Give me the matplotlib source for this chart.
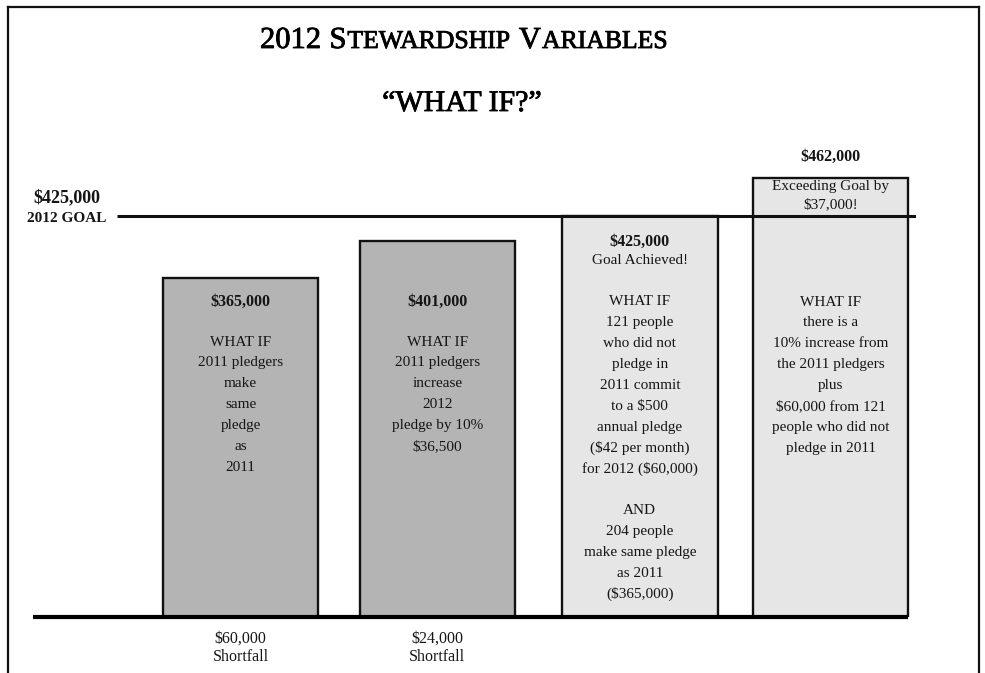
#
# 2012 stewardship "what if" chart
#

import matplotlib
matplotlib.use('Agg')
import matplotlib.pyplot as plt
import matplotlib.transforms as mtransforms
import matplotlib.patheffects as pe
from matplotlib.lines import Line2D

# ---------------------------------------------------------------- data
goal = 425000
totals = [365000, 401000, 425000, 462000]
shortfalls = [60000, 24000]
exceed = 37000

bar1_lines = ['WHAT IF', '2011 pledgers', 'make', 'same', 'pledge', 'as', '2011']
bar2_lines = ['WHAT IF', '2011 pledgers', 'increase', '2012', 'pledge by 10%', '$36,500']
bar3_lines = ['Goal Achieved!', '', 'WHAT IF', '121 people', 'who did not', 'pledge in',
              '2011 commit', 'to a $500', 'annual pledge', '($42 per month)',
              'for 2012 ($60,000)', '', 'AND', '204 people', 'make same pledge',
              'as 2011', '($365,000)']
bar4_lines = ['WHAT IF', 'there is a', '10% increase from', 'the 2011 pledgers', 'plus',
              '$60,000 from 121', 'people who did not', 'pledge in 2011']

# ---------------------------------------------------------------- style
W, H = 985, 673
SERIF = 'Liberation Serif'
TXT = '#151515'
DARK = '#b4b4b4'
LIGHT = '#e6e6e6'
bar_colors = [DARK, DARK, LIGHT, LIGHT]
bar_pos = [0, 1, 2.03, 3]   # layout slots (third box sits a little right)
LINE_STEP = 20.9            # px between text lines
heavy = [pe.withStroke(linewidth=0.6, foreground='black')]


def fy(p):
    # pixel from top -> figure fraction
    return 1 - p / H


def fx(p):
    return p / W


fig = plt.figure(figsize=(W / 100, H / 100), dpi=100, facecolor='white')
renderer = fig.canvas.get_renderer()

# frame (bottom edge is cut off in the original)
for xs, ys in [([8, 8], [H, 7]), ([8, 979], [7, 7]), ([979, 979], [7, H])]:
    fig.add_artist(Line2D([fx(v) for v in xs], [fy(v) for v in ys],
                          color='#111111', lw=1.6, transform=fig.transFigure))

# title in small caps
big, small = 22, 18.5
pieces = [('2012', big, 0), ('S', big, 0.25), ('TEWARDSHIP', small, 0),
          ('V', big, 0.25), ('ARIABLES', small, 0)]
texts, widths = [], []
for s, size, gap in pieces:
    t = fig.text(0, fy(48), s, fontsize=size, family=SERIF, va='baseline', ha='left',
                 color='black', path_effects=heavy)
    texts.append(t)
    widths.append(t.get_window_extent(renderer).width + gap * size * 100 / 72)
xcur = 462 - sum(widths) / 2
for t, (s, size, gap), w in zip(texts, pieces, widths):
    t.set_x(fx(xcur + gap * size * 100 / 72))
    xcur += w + 1

fig.text(fx(462), fy(111), '\u201cWHAT IF?\u201d', fontsize=21.5, family=SERIF,
         ha='center', va='baseline', color='black', path_effects=heavy)

# ---------------------------------------------------------------- axes
width = 0.79
# slot <-> px : 240.5 + 196.7*i ; value <-> px : 216 - 1.04e-3*(v-425000)
ax = fig.add_axes([fx(33), fy(617), fx(916 - 33), (617 - 140) / H])
ax.set_xlim(-1.055, 3.434)
ax.set_ylim(39423, 498077)
ax.axis('off')

ax.bar(bar_pos, totals, width=width, color=bar_colors, edgecolor='#111111', linewidth=1.7, zorder=2)
ax.hlines(goal, -0.63, 3.434, color='#111111', lw=2.2, zorder=3)
ax.hlines(ax.get_ylim()[0], -1.055, bar_pos[-1] + width / 2, color='#000000', lw=3, zorder=4,
          clip_on=False)

tr = mtransforms.blended_transform_factory(ax.transData, fig.transFigure)


def put(i, ypx, s, size=11, weight='normal'):
    ax.text(bar_pos[i], fy(ypx), s, transform=tr, ha='center', va='center', fontsize=size,
            fontweight=weight, family=SERIF, color=TXT, parse_math=False)


def block(i, ystart, lines, step=LINE_STEP):
    for k, s in enumerate(lines):
        if s:
            put(i, ystart + k * step, s)


# headers
put(0, 302, '${:,}'.format(totals[0]), size=11.5, weight='bold')
put(1, 302, '${:,}'.format(totals[1]), size=11.5, weight='bold')
put(2, 242, '${:,}'.format(totals[2]), size=11.5, weight='bold')
put(3, 157, '${:,}'.format(totals[3]), size=11.5, weight='bold')

block(0, 342, bar1_lines)
block(1, 342, bar2_lines)
block(2, 260, bar3_lines)
block(3, 302, bar4_lines)
block(3, 186.5, ['Exceeding Goal by', '${:,}!'.format(exceed)], step=18.5)

# shortfalls under the bars
for i, v in enumerate(shortfalls):
    put(i, 639, '${:,}'.format(v), size=11.5)
    put(i, 657, 'Shortfall', size=11.5)

# goal label
fig.text(fx(67), fy(198), '${:,}'.format(goal), fontsize=13, fontweight='bold', family=SERIF,
         ha='center', va='center', color=TXT, parse_math=False)
fig.text(fx(67), fy(219), '2012 GOAL', fontsize=11, fontweight='bold', family=SERIF,
         ha='center', va='center', color=TXT)

fig.savefig('out.png', dpi=100, facecolor='white')
